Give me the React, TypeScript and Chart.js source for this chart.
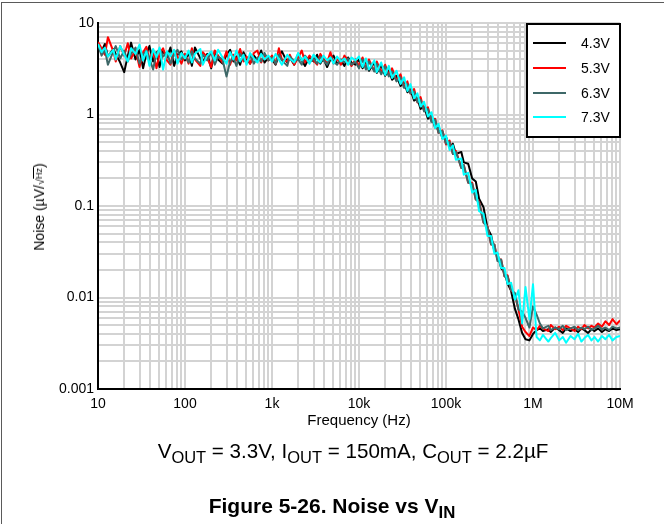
import React, { useEffect, useRef } from 'react';
import { Chart, registerables } from 'chart.js';

Chart.register(...registerables);

const FONT = 'Arial, "Liberation Sans", Helvetica, sans-serif';

// Frequency points (Hz)
const FREQS = [
  10, 11, 12, 13, 15, 16, 18, 20, 22, 24, 27, 30, 33, 36, 39, 43, 47, 51, 56, 62, 68, 75, 82, 91,
  100, 110, 120, 130, 150, 160, 180, 200, 220, 240, 270, 300, 330, 360, 390, 430, 470, 510, 560, 620, 680, 750, 820, 910,
  1000, 1100, 1200, 1300, 1500, 1600, 1800, 2000, 2200, 2400, 2700, 3000, 3300, 3600, 3900, 4300, 4700, 5100, 5600, 6200, 6800, 7500, 8200, 9100,
  10000, 11000, 12000, 13000, 15000, 16000, 18000, 20000, 22000, 24000, 27000, 30000, 33000, 36000, 39000, 43000, 47000, 51000, 56000, 62000, 68000, 75000, 82000, 91000,
  100000, 110000, 120000, 130000, 150000, 160000, 180000, 200000, 220000, 240000, 270000, 300000, 330000, 360000, 390000, 430000, 470000, 510000, 560000, 620000, 680000, 750000, 820000, 910000,
  1000000, 1100000, 1200000, 1300000, 1500000, 1600000, 1800000, 2000000, 2200000, 2400000, 2700000, 3000000, 3300000, 3600000, 3900000, 4300000, 4700000, 5100000, 5600000, 6200000, 6800000, 7500000, 8200000, 9100000, 10000000,
];

// Noise (uV/sqrt(Hz)) for each VIN
const NOISE_4V3 = [
  5.5, 4.9, 5.9, 4.3, 5.2, 4.6, 3.7, 2.9, 4.4, 6.1, 4.0, 5.1, 3.2, 4.6, 5.6, 3.8, 4.8, 3.3, 5.0, 4.2, 5.4, 3.4, 4.5, 4.9,
  3.9, 4.7, 3.4, 5.4, 4.1, 3.7, 4.6, 3.2, 4.9, 4.0, 3.6, 4.5, 5.1, 3.8, 4.3, 3.5, 4.8, 4.1, 3.6, 4.4, 3.9, 5.0, 3.7, 4.2,
  4.0, 3.5, 4.4, 4.9, 3.7, 4.2, 3.5, 4.6, 3.9, 3.4, 4.3, 3.8, 4.5, 3.6, 4.1, 3.3, 4.0, 4.4, 3.6, 3.9, 3.4, 4.2, 3.7, 3.5,
  4.0, 3.2, 3.9, 3.0, 3.7, 2.85, 3.45, 2.65, 3.05, 2.4, 2.65, 2.05, 2.25, 1.75, 1.88, 1.42, 1.5, 1.15, 1.22, 0.9, 0.96, 0.72, 0.74, 0.55,
  0.57, 0.44, 0.48, 0.37, 0.39, 0.3, 0.29, 0.2, 0.185, 0.12, 0.097, 0.057, 0.048, 0.032, 0.03, 0.021, 0.019, 0.0142, 0.0118, 0.0075, 0.0058, 0.0041, 0.0035, 0.0034,
  0.004, 0.0044, 0.0046, 0.0043, 0.0045, 0.0042, 0.0047, 0.0044, 0.0041, 0.0046, 0.0043, 0.0045, 0.0042, 0.0046, 0.0044, 0.0041, 0.0045, 0.0043, 0.0046, 0.0042, 0.0045, 0.0043, 0.0046, 0.0044, 0.0045,
];

const NOISE_5V3 = [
  6.2, 5.3, 4.5, 7.0, 4.9, 3.8, 5.6, 4.4, 6.0, 4.1, 5.1, 3.3, 4.8, 5.5, 4.0, 4.9, 3.2, 4.6, 5.3, 3.9, 3.5, 5.0, 4.3, 3.6,
  4.6, 3.6, 5.3, 4.0, 3.4, 4.8, 4.2, 3.3, 5.0, 4.4, 3.7, 4.9, 3.5, 4.5, 3.9, 5.2, 3.8, 4.3, 3.6, 4.7, 5.0, 3.7, 4.5, 3.9,
  4.4, 3.6, 5.3, 4.0, 3.8, 4.5, 3.5, 4.2, 5.0, 3.7, 4.4, 3.9, 3.5, 4.6, 4.0, 3.7, 4.8, 3.6, 4.1, 3.5, 4.4, 3.9, 3.4, 4.0,
  3.4, 4.2, 3.2, 4.0, 3.0, 3.8, 2.9, 3.5, 2.7, 3.2, 2.35, 2.75, 2.0, 2.3, 1.7, 1.9, 1.35, 1.55, 1.1, 1.2, 0.85, 0.9, 0.63, 0.67,
  0.47, 0.52, 0.37, 0.4, 0.26, 0.28, 0.18, 0.18, 0.118, 0.112, 0.066, 0.06, 0.038, 0.038, 0.026, 0.026, 0.017, 0.0175, 0.012, 0.0108, 0.0075, 0.0048, 0.0042, 0.0038,
  0.0047, 0.0044, 0.0049, 0.0046, 0.0043, 0.005, 0.0045, 0.0048, 0.0044, 0.0049, 0.0046, 0.0043, 0.0048, 0.0045, 0.005, 0.0046, 0.0049, 0.0047, 0.0052, 0.0048, 0.0055, 0.005, 0.0058, 0.0051, 0.0056,
];

const NOISE_6V3 = [
  5.8, 4.4, 5.1, 3.5, 4.9, 5.6, 4.1, 5.0, 3.8, 4.6, 5.4, 3.6, 4.5, 5.0, 4.1, 3.1, 4.7, 5.2, 4.3, 4.8, 3.6, 4.5, 5.1, 4.0,
  4.4, 3.7, 4.9, 4.1, 3.6, 4.5, 3.9, 4.8, 3.5, 4.3, 4.0, 2.6, 3.8, 4.2, 3.4, 4.6, 4.0, 3.7, 4.4, 3.6, 4.2, 3.8, 4.7, 3.9,
  4.2, 3.6, 4.5, 3.9, 3.4, 4.3, 3.8, 4.0, 3.5, 4.4, 3.7, 4.1, 3.6, 4.3, 3.9, 3.5, 4.2, 3.8, 3.5, 4.0, 3.7, 4.1, 3.5, 3.8,
  3.2, 4.0, 3.1, 3.8, 2.95, 3.6, 2.75, 3.35, 2.6, 2.95, 2.3, 2.55, 1.95, 2.15, 1.7, 1.78, 1.36, 1.45, 1.08, 1.15, 0.83, 0.88, 0.63, 0.66,
  0.48, 0.5, 0.37, 0.39, 0.26, 0.28, 0.18, 0.175, 0.118, 0.11, 0.066, 0.059, 0.038, 0.038, 0.025, 0.026, 0.017, 0.0172, 0.012, 0.0112, 0.0074, 0.007, 0.006, 0.0047,
  0.008, 0.0065, 0.0052, 0.0046, 0.0049, 0.0044, 0.0047, 0.0045, 0.0049, 0.0044, 0.0046, 0.0048, 0.0044, 0.0047, 0.0045, 0.0048, 0.0044, 0.0046, 0.0049, 0.0045, 0.0047, 0.0044, 0.0048, 0.0046, 0.0047,
];

const NOISE_7V3 = [
  5.9, 4.8, 5.4, 4.3, 5.1, 4.0, 5.6, 4.5, 3.8, 5.3, 4.6, 5.8, 3.9, 4.9, 3.4, 5.2, 4.2, 5.4, 3.1, 4.9, 4.3, 5.1, 3.6, 4.7,
  4.1, 5.0, 3.7, 4.6, 5.2, 3.5, 4.4, 4.9, 3.9, 5.1, 4.2, 3.6, 4.8, 4.0, 5.0, 3.8, 4.5, 3.5, 4.7, 4.1, 3.7, 4.6, 4.0, 4.4,
  3.8, 4.6, 4.0, 3.5, 4.5, 4.1, 3.7, 4.7, 3.9, 4.3, 3.6, 4.5, 4.0, 3.7, 4.4, 3.9, 4.2, 3.6, 4.3, 3.8, 4.1, 3.5, 4.2, 3.9,
  4.3, 3.3, 4.1, 3.1, 3.9, 2.9, 3.7, 2.7, 3.4, 2.5, 3.0, 2.15, 2.55, 1.8, 2.15, 1.5, 1.7, 1.22, 1.38, 0.95, 1.06, 0.71, 0.79, 0.54,
  0.59, 0.41, 0.46, 0.32, 0.33, 0.22, 0.23, 0.14, 0.15, 0.088, 0.082, 0.047, 0.047, 0.03, 0.031, 0.021, 0.021, 0.014, 0.0145, 0.0095, 0.012, 0.0052, 0.013, 0.0058,
  0.014, 0.0037, 0.0034, 0.0039, 0.0033, 0.0036, 0.0041, 0.0034, 0.0037, 0.0032, 0.0038, 0.0035, 0.004, 0.0033, 0.0036, 0.0039, 0.0034, 0.0037, 0.0033, 0.0038, 0.0035, 0.0039, 0.0034, 0.0037, 0.0038,
];

const SERIES_LABELS = ['4.3V', '5.3V', '6.3V', '7.3V'];
const SERIES_COLORS = ['#000000', '#ff0000', '#3e6868', '#00ffff'];
const SERIES_VALUES = [NOISE_4V3, NOISE_5V3, NOISE_6V3, NOISE_7V3];

const X_MIN = 10;
const X_MAX = 10000000;
const Y_MIN = 0.001;
const Y_MAX = 10;
const X_DECADE_LABELS = ['10', '100', '1k', '10k', '100k', '1M', '10M'];
const Y_DECADE_LABELS = ['0.001', '0.01', '0.1', '1', '10'];

function logGridTicks(min: number, max: number) {
  const ticks: { value: number; major: boolean }[] = [];
  const e0 = Math.round(Math.log10(min));
  const e1 = Math.round(Math.log10(max));
  for (let e = e0; e < e1; e++) {
    for (let m = 1; m <= 9; m++) {
      ticks.push({ value: Number((m * Math.pow(10, e)).toPrecision(6)), major: m === 1 });
    }
  }
  ticks.push({ value: max, major: true });
  return ticks;
}

function decadeLabel(value: number, min: number, labels: string[]) {
  const l = Math.log10(value);
  const r = Math.round(l);
  if (Math.abs(l - r) > 1e-6) return '';
  const idx = r - Math.round(Math.log10(min));
  return labels[idx] ?? '';
}

const boxLegend = {
  id: 'boxLegend',
  afterDatasetsDraw(chart: any) {
    const { ctx, chartArea } = chart;
    const w = 93;
    const h = 113;
    const left = chartArea.right - w;
    const top = chartArea.top;
    ctx.save();
    ctx.fillStyle = '#ffffff';
    ctx.fillRect(left - 1, top, w + 1, h + 2);
    ctx.strokeStyle = '#000000';
    ctx.lineWidth = 2;
    ctx.strokeRect(left, top + 1, w, h);
    const rows = [20, 45, 70, 94];
    ctx.font = `14px ${FONT}`;
    ctx.textBaseline = 'middle';
    ctx.textAlign = 'left';
    chart.data.datasets.forEach((ds: any, i: number) => {
      const y = top + rows[i];
      ctx.strokeStyle = ds.borderColor;
      ctx.lineWidth = 2;
      ctx.beginPath();
      ctx.moveTo(left + 6, y);
      ctx.lineTo(left + 39, y);
      ctx.stroke();
      ctx.fillStyle = '#000000';
      ctx.fillText(ds.label, left + 54, y + 1);
    });
    ctx.restore();
  },
};

export default function App() {
  const canvasRef = useRef<HTMLCanvasElement | null>(null);

  useEffect(() => {
    const canvas = canvasRef.current;
    if (!canvas) return;
    const datasets = SERIES_VALUES.map((vals, i) => ({
      label: SERIES_LABELS[i],
      data: FREQS.map((f, j) => ({ x: f, y: vals[j] })),
      borderColor: SERIES_COLORS[i],
      backgroundColor: SERIES_COLORS[i],
      borderWidth: 2,
      pointRadius: 0,
      tension: 0,
      borderJoinStyle: 'round' as const,
      order: 4 - i,
    }));

    const chart = new Chart(canvas, {
      type: 'line',
      data: { datasets },
      plugins: [boxLegend],
      options: {
        animation: false,
        responsive: false,
        devicePixelRatio: 1,
        parsing: false as any,
        layout: { padding: { left: 0, right: 44, top: 23, bottom: 105 } },
        plugins: {
          legend: { display: false },
          tooltip: { enabled: false },
          title: { display: false },
        },
        scales: {
          x: {
            type: 'logarithmic',
            min: X_MIN,
            max: X_MAX,
            afterBuildTicks: (scale: any) => {
              scale.ticks = logGridTicks(X_MIN, X_MAX);
            },
            afterFit: (scale: any) => {
              scale.height = 30;
            },
            grid: { color: '#d3d3d3', lineWidth: 2, drawTicks: false },
            border: { display: true, color: '#000000', width: 2 },
            ticks: {
              autoSkip: false,
              maxRotation: 0,
              padding: 7,
              color: '#000000',
              font: { family: FONT, size: 14 },
              callback: (v: any) => decadeLabel(Number(v), X_MIN, X_DECADE_LABELS),
            },
          },
          y: {
            type: 'logarithmic',
            min: Y_MIN,
            max: Y_MAX,
            afterBuildTicks: (scale: any) => {
              scale.ticks = logGridTicks(Y_MIN, Y_MAX);
            },
            afterFit: (scale: any) => {
              scale.width = 98;
            },
            grid: { color: '#d3d3d3', lineWidth: 2, drawTicks: false },
            border: { display: true, color: '#000000', width: 2 },
            ticks: {
              autoSkip: false,
              padding: 4,
              color: '#000000',
              font: { family: FONT, size: 14 },
              callback: (v: any) => decadeLabel(Number(v), Y_MIN, Y_DECADE_LABELS),
            },
          },
        },
      },
    });
    return () => chart.destroy();
  }, []);

  const sub: React.CSSProperties = { fontSize: '0.8em', position: 'relative', top: '0.28em' };

  return (
    <div
      style={{
        position: 'fixed',
        left: 0,
        top: 0,
        width: 664,
        height: 524,
        background: '#ffffff',
        overflow: 'hidden',
        fontFamily: FONT,
        color: '#000',
      }}
    >
      <div
        style={{
          position: 'absolute',
          left: 1,
          top: 2,
          width: 700,
          height: 600,
          borderTop: '1px solid #5a5a5a',
          borderLeft: '1px solid #5a5a5a',
        }}
      />
      <canvas ref={canvasRef} width={664} height={524} style={{ position: 'absolute', left: 0, top: 0, display: 'block' }} />
      <div
        style={{
          position: 'absolute',
          left: 40,
          top: 207,
          transform: 'translate(-50%, -50%) rotate(-90deg)',
          whiteSpace: 'nowrap',
          fontSize: 14,
          lineHeight: '18px',
        }}
      >
        Noise (µV/<span style={{ fontSize: 11 }}>√</span>
        <span style={{ fontSize: 9, borderTop: '1px solid #000', position: 'relative', top: -2 }}>Hz</span>)
      </div>
      <div
        style={{
          position: 'absolute',
          left: 359,
          top: 412,
          transform: 'translateX(-50%)',
          whiteSpace: 'nowrap',
          fontSize: 15,
          lineHeight: '16px',
        }}
      >
        Frequency (Hz)
      </div>
      <div
        style={{
          position: 'absolute',
          left: 353,
          top: 441,
          transform: 'translateX(-50%)',
          whiteSpace: 'nowrap',
          fontSize: 20.6,
          lineHeight: '20px',
        }}
      >
        V<span style={sub}>OUT</span> = 3.3V, I<span style={sub}>OUT</span> = 150mA, C<span style={sub}>OUT</span> = 2.2µF
      </div>
      <div
        style={{
          position: 'absolute',
          left: 332,
          top: 496,
          transform: 'translateX(-50%)',
          whiteSpace: 'nowrap',
          fontSize: 21,
          fontWeight: 'bold',
          lineHeight: '20px',
        }}
      >
        Figure 5-26. Noise vs V<span style={sub}>IN</span>
      </div>
    </div>
  );
}
